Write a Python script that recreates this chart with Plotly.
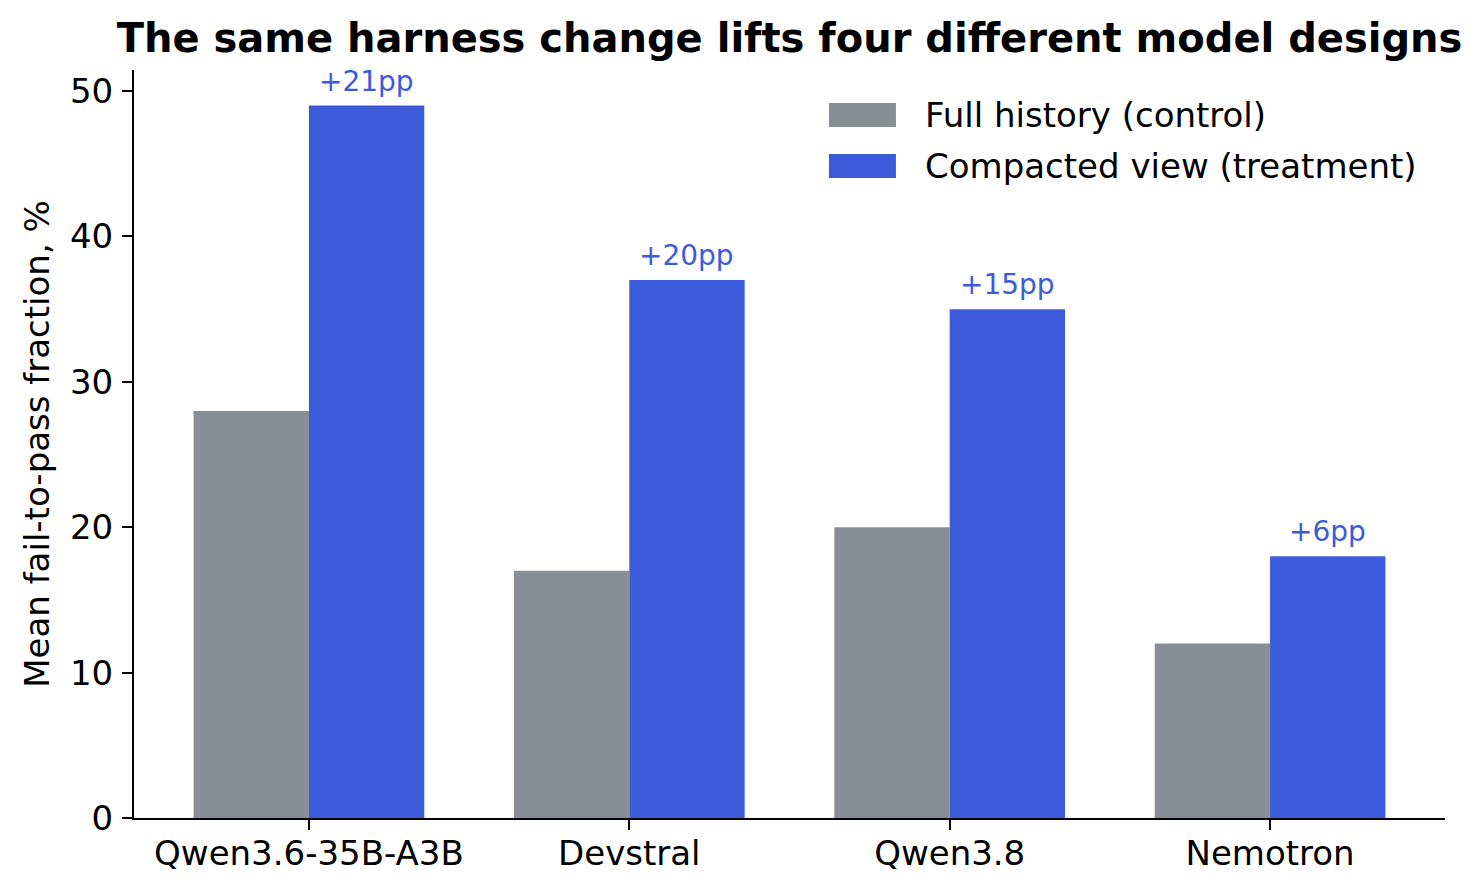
import plotly.graph_objects as go

MODELS = ["Qwen3.6-35B-A3B", "Devstral", "Qwen3.8", "Nemotron"]
CONTROL = [28, 17, 20, 12]
TREATMENT = [49, 37, 35, 18]
LIFT_LABELS = ["+21pp", "+20pp", "+15pp", "+6pp"]
SERIES_NAMES = ["Full history (control)", "Compacted view (treatment)"]

GRAY = "#878E95"
BLUE = "#3B5BDB"
FONT = "DejaVu Sans"
BAR_W = 0.36

x_pos = list(range(len(MODELS)))

fig = go.Figure()
fig.add_trace(go.Bar(
    x=x_pos, y=CONTROL, name=SERIES_NAMES[0],
    marker=dict(color=GRAY, line=dict(width=0)),
    width=BAR_W, offset=-BAR_W, showlegend=False,
))
fig.add_trace(go.Bar(
    x=x_pos, y=TREATMENT, name=SERIES_NAMES[1],
    marker=dict(color=BLUE, line=dict(width=0)),
    width=BAR_W, offset=0, showlegend=False,
))

for xi, val, lab in zip(x_pos, TREATMENT, LIFT_LABELS):
    fig.add_annotation(
        x=xi + BAR_W / 2, y=val + 0.4, text=lab, showarrow=False,
        xanchor="center", yanchor="bottom",
        font=dict(family=FONT, size=28, color=BLUE),
    )

# legend drawn by hand so the swatches can be wide matplotlib-style patches
legend_rows = [(0.9398, GRAY), (0.8717, BLUE)]
for (yc, color), name in zip(legend_rows, SERIES_NAMES):
    fig.add_shape(
        type="rect", xref="paper", yref="paper",
        x0=0.5301, x1=0.5812, y0=yc - 0.016, y1=yc + 0.016,
        fillcolor=color, line=dict(width=0),
    )
    fig.add_annotation(
        xref="paper", yref="paper", x=0.6015, y=yc, text=name,
        showarrow=False, xanchor="left", yanchor="middle",
        font=dict(family=FONT, size=34, color="black"),
    )

fig.update_layout(
    width=1476, height=887,
    barmode="overlay",
    plot_bgcolor="white", paper_bgcolor="white",
    margin=dict(l=126, r=39, t=62, b=77),
    font=dict(family=FONT, size=34, color="black"),
    title=dict(
        text="<b>The same harness change lifts four different model designs</b>",
        x=0.5, xref="paper", y=1 - 30 / 887, yref="container",
        xanchor="center", yanchor="middle",
        font=dict(family=FONT, size=40, color="black"),
    ),
    showlegend=False,
)
fig.update_xaxes(
    tickmode="array", tickvals=x_pos, ticktext=MODELS,
    range=[-0.546, 3.546],
    showline=True, linecolor="black", linewidth=2,
    ticks="outside", ticklen=10, tickwidth=2, tickcolor="black",
    ticklabelstandoff=-6,
    showgrid=False, zeroline=False,
)
fig.update_yaxes(
    range=[0, 51.45], tickvals=[0, 10, 20, 30, 40, 50],
    title=dict(text="Mean fail-to-pass fraction, %", standoff=10,
               font=dict(family=FONT, size=34, color="black")),
    showline=True, linecolor="black", linewidth=2,
    ticks="outside", ticklen=10, tickwidth=2, tickcolor="black",
    ticklabelstandoff=2,
    showgrid=False, zeroline=False,
)

fig.write_html("out.html")
